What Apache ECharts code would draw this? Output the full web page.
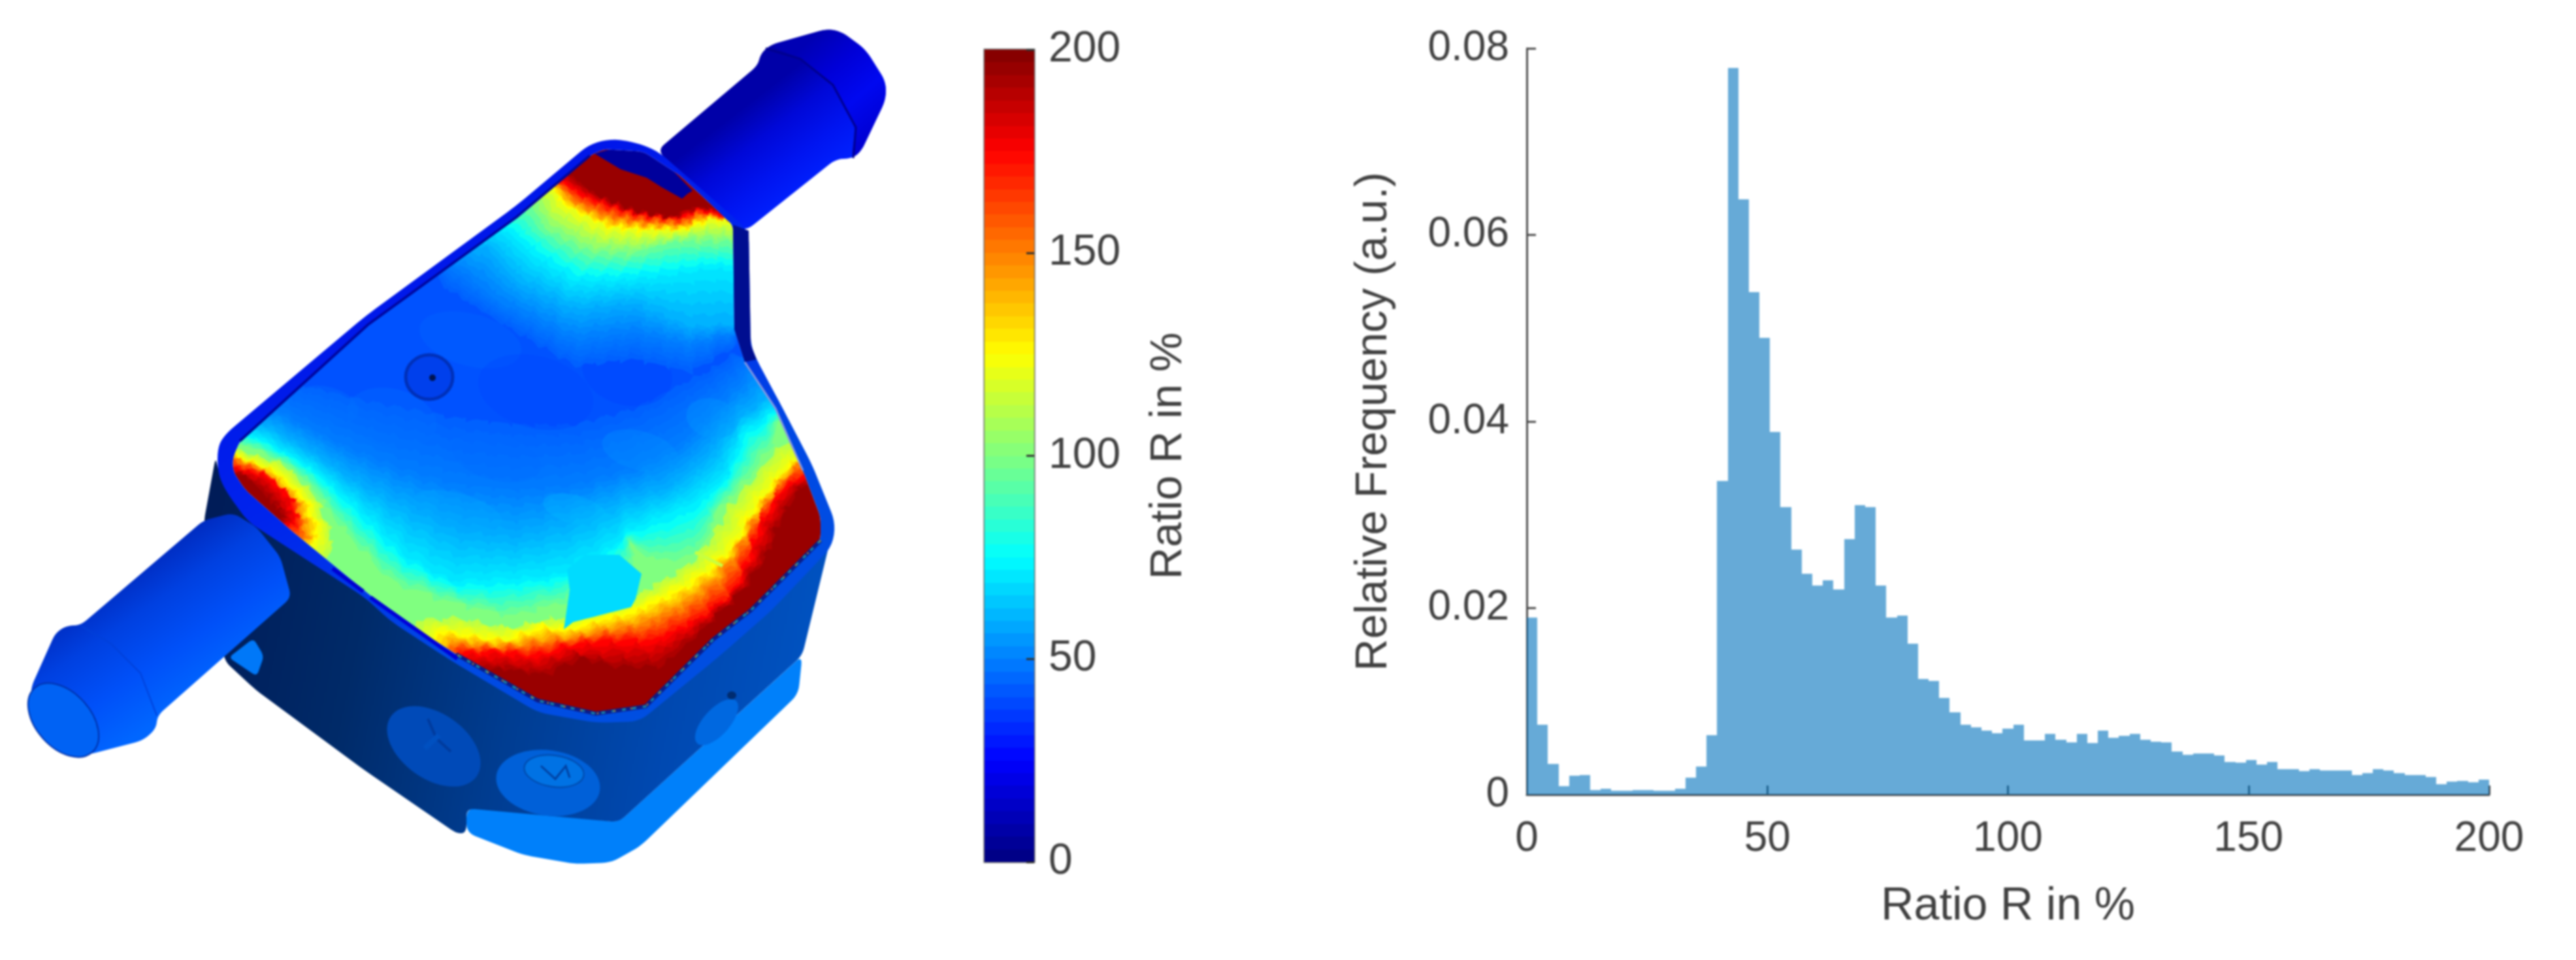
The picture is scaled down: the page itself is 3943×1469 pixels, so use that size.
<!DOCTYPE html>
<html>
<head>
<meta charset="utf-8">
<title>Ratio R</title>
<style>
    html, body { margin: 0; padding: 0; background: #fff; }
    #main { width: 3943px; height: 1469px; filter: blur(1.6px); }
</style>
<script src="https://cdn.jsdelivr.net/npm/echarts@6/dist/echarts.min.js"></script>
</head>
<body>
<div id="main"></div>
<script>
// histogram, one value per bin
var ratioFreq = [
    0.0190, 0.0075, 0.0033, 0.0009, 0.0020, 0.0021, 0.0005, 0.0006, 0.0004, 0.0004,
    0.0005, 0.0005, 0.0004, 0.0004, 0.0006, 0.0018, 0.0030, 0.0064, 0.0336, 0.0779,
    0.0638, 0.0539, 0.0490, 0.0389, 0.0308, 0.0263, 0.0237, 0.0224, 0.0230, 0.0220,
    0.0274, 0.0310, 0.0308, 0.0224, 0.0190, 0.0192, 0.0162, 0.0124, 0.0122, 0.0104,
    0.0088, 0.0075, 0.0072, 0.0069, 0.0066, 0.0071, 0.0075, 0.0058, 0.0058, 0.0065,
    0.0059, 0.0056, 0.0065, 0.0055, 0.0069, 0.0061, 0.0063, 0.0065, 0.0059, 0.0057,
    0.0056, 0.0046, 0.0043, 0.0044, 0.0044, 0.0042, 0.0035, 0.0034, 0.0037, 0.0032,
    0.0035, 0.0027, 0.0027, 0.0025, 0.0027, 0.0026, 0.0026, 0.0026, 0.0021, 0.0023,
    0.0027, 0.0026, 0.0023, 0.0021, 0.0021, 0.0019, 0.0011, 0.0014, 0.0015, 0.0013, 0.0016
];
var ratioMax = 200;
var freqMax = 0.08;
var ratioStep = 50;
var freqStep = 0.02;
var xTitle = 'Ratio R in %';
var yTitle = 'Relative Frequency (a.u.)';
var barTitle = 'Ratio R in %';
var colorLevels = 64;

// outlines of the part on the left, in page pixels
var heatEdge = [[356,702],[367,675],[563,497],[791,332],[903,238],[925,228],[985,232],[1040,268],[1122,344],[1124,504],[1140,554],[1187,625],[1229,720],[1256,791],[1256,827],[1149,934],[1091,979],[988,1081],[912,1092],[823,1072],[698,1001],[600,938],[446,812],[375,749],[357,722]];
var lidEdge = [[333,722],[333,684],[345,664],[559,484],[791,314],[903,220],[938,212],[977,219],[1008,232],[1039,259],[1146,353],[1149,527],[1158,550],[1194,617],[1243,711],[1279,800],[1274,836],[1180,935],[1100,1005],[979,1104],[912,1106],[823,1090],[689,1010],[600,952],[558,914],[379,798],[344,749]];
var bodyEdge = [[330,700],[312,798],[344,1012],[393,1057],[560,1180],[700,1276],[714,1274],[714,1237],[947,1258],[1228,1003],[1270,830],[1180,930],[1100,1000],[979,1100],[912,1102],[823,1086],[689,1006],[600,948],[558,910],[379,794],[344,745],[333,715]];
var skirtEdge = [[714,1237],[745,1236],[947,1258],[1228,1003],[1222,1062],[980,1295],[935,1320],[880,1322],[800,1308],[714,1274]];
var wedgeEdge = [[388,977],[404,1004],[393,1035],[350,1006]];
var leftNozzle = [[312,796],[357,785],[393,807],[429,852],[446,914],[241,1095],[239,1115],[219,1133],[134,1155],[107,1153],[76,1129],[49,1084],[47,1053],[85,968],[103,957],[123,957]];
var rightNozzle = [[1006,230],[1160,100],[1164,83],[1178,69],[1267,44],[1289,49],[1325,76],[1356,125],[1356,152],[1318,232],[1303,243],[1280,243],[1142,353],[1120,344]];
var rightTip = [[1178,69],[1267,44],[1289,49],[1325,76],[1356,125],[1356,152],[1318,232],[1303,243],[1310,195],[1275,130],[1225,90]];
var rightStrip = [[1122,344],[1146,353],[1149,527],[1158,550],[1140,554],[1124,504]];
var topDark = [[910,235],[950,224],[1000,230],[1060,292],[1053,296],[1044,304],[1012,286],[990,272],[950,259]];
var patchEdge = [[863,963],[872,903],[868,871],[895,849],[948,849],[982,878],[973,916],[966,929],[912,943],[877,952]];

// contour levels of the ratio on the part: value, then the line it follows
var lowerLevels = [44, 50, 60, 72, 100];
var lowerLines = [
    [[440,585],[570,615],[700,640],[790,650],[880,650],[970,625],[1040,590],[1090,565],[1125,540]],
    [[420,626],[523,680],[612,716],[702,742],[791,751],[880,742],[970,715],[1046,675],[1113,608],[1149,563]],
    [[403,649],[479,693],[546,738],[621,778],[702,814],[791,823],[877,800],[957,764],[1024,746],[1082,702],[1127,644],[1176,608]],
    [[390,665],[479,716],[546,774],[621,850],[689,889],[790,885],[850,880],[880,870],[940,835],[957,813],[1010,790],[1060,770],[1113,729],[1136,662],[1185,630]],
    [[371,680],[434,707],[479,745],[530,815],[600,890],[689,921],[779,943],[850,925],[930,900],[975,860],[960,828],[1005,858],[1069,848],[1085,815],[1100,778],[1136,742],[1180,684],[1194,644]]
];
var bottomLevels = [112, 125, 150, 175, 195];
var bottomLines = [
    [[640,950],[700,945],[779,962],[850,945],[880,945],[970,915],[1046,870],[1070,850],[1098,810],[1115,775],[1150,735],[1195,680],[1215,680]],
    [[670,965],[770,979],[832,955],[863,965],[912,947],[957,938],[979,929],[1046,898],[1078,876],[1127,831],[1145,791],[1180,742],[1212,706],[1240,700]],
    [[690,985],[765,990],[830,980],[880,975],[920,965],[980,955],[1050,925],[1100,885],[1130,840],[1155,795],[1190,745],[1225,705],[1245,710]],
    [[700,1000],[761,996],[823,1002],[868,987],[921,979],[1002,979],[1069,947],[1122,907],[1145,854],[1162,800],[1198,746],[1235,725]],
    [[740,1030],[765,1023],[832,1032],[890,1005],[939,1019],[1011,1020],[1065,975],[1136,903],[1176,845],[1189,804],[1225,742],[1245,740]]
];
var leftLevels = [112, 125, 150, 175, 195];
var leftLines = [
    [[350,685],[434,710],[484,760],[510,825],[500,860]],
    [[350,695],[425,722],[470,765],[492,818],[470,840]],
    [[350,700],[400,718],[455,770],[470,825],[455,830]],
    [[350,716],[407,725],[447,760],[456,805],[434,805]],
    [[367,725],[403,751],[434,787],[430,800]]
];
var topLevels = [44, 50, 60, 72, 100, 125, 150, 175, 195];
var topLines = [
    [[680,440],[760,490],[880,560],[970,550],[1057,570],[1125,530]],
    [[700,410],[760,460],[880,520],[970,510],[1057,530],[1125,510]],
    [[700,375],[745,379],[789,429],[879,473],[968,464],[1057,500],[1130,495]],
    [[720,360],[776,353],[820,393],[879,429],[945,429],[1012,424],[1088,411],[1130,415]],
    [[790,300],[812,312],[834,348],[901,384],[968,388],[1035,370],[1130,370]],
    [[820,270],[847,286],[856,308],[887,326],[932,348],[990,353],[1044,353],[1093,335],[1130,342]],
    [[830,265],[852,282],[880,310],[930,332],[985,342],[1044,345],[1080,328],[1130,338]],
    [[840,260],[856,277],[892,299],[941,317],[986,330],[1044,335],[1066,321],[1130,335]],
    [[850,250],[870,268],[910,295],[968,321],[1030,333],[1053,321],[1079,317],[1130,325]]
];
// mottling of the flat blue part: x, y, rx, ry, ratio
var mottle = [
    [600,640,70,45,47], [720,520,80,40,46], [820,600,90,55,38], [960,570,70,50,37],
    [900,470,70,35,47], [1040,480,60,40,52], [760,700,70,35,46], [500,620,50,28,48],
    [980,690,60,30,54], [700,780,70,25,58], [1090,640,40,30,56], [880,780,50,22,62]
];

function clamp01(v) { return Math.max(0, Math.min(1, v)); }

// jet colormap of the colour bar
function jet(value) {
    var t = value / ratioMax;
    var r = clamp01(1.5 - Math.abs(4 * t - 3));
    var g = clamp01(1.5 - Math.abs(4 * t - 2));
    var b = clamp01(1.5 - Math.abs(4 * t - 1));
    return 'rgb(' + Math.round(r * 255) + ',' + Math.round(g * 255) + ',' + Math.round(b * 255) + ')';
}

function resample(points, n) {
    var lengths = [0];
    for (var i = 1; i < points.length; i++) {
        var dx = points[i][0] - points[i - 1][0];
        var dy = points[i][1] - points[i - 1][1];
        lengths.push(lengths[i - 1] + Math.sqrt(dx * dx + dy * dy));
    }
    var total = lengths[lengths.length - 1];
    var out = [];
    var seg = 1;
    for (var k = 0; k < n; k++) {
        var at = total * k / (n - 1);
        while (seg < points.length - 1 && lengths[seg] < at) { seg++; }
        var f = (at - lengths[seg - 1]) / ((lengths[seg] - lengths[seg - 1]) || 1);
        out.push([
            points[seg - 1][0] + (points[seg][0] - points[seg - 1][0]) * f,
            points[seg - 1][1] + (points[seg][1] - points[seg - 1][1]) * f
        ]);
    }
    return out;
}

// round the corners of a closed outline, radius in px
function rounded(points, radius) {
    var out = [];
    var n = points.length;
    for (var i = 0; i < n; i++) {
        var v = points[i];
        var a = points[(i + n - 1) % n];
        var b = points[(i + 1) % n];
        var la = Math.sqrt((a[0] - v[0]) * (a[0] - v[0]) + (a[1] - v[1]) * (a[1] - v[1]));
        var lb = Math.sqrt((b[0] - v[0]) * (b[0] - v[0]) + (b[1] - v[1]) * (b[1] - v[1]));
        var ra = Math.min(radius, la / 2) / la;
        var rb = Math.min(radius, lb / 2) / lb;
        var p1 = [v[0] + (a[0] - v[0]) * ra, v[1] + (a[1] - v[1]) * ra];
        var p2 = [v[0] + (b[0] - v[0]) * rb, v[1] + (b[1] - v[1]) * rb];
        for (var s = 0; s <= 5; s++) {
            var t = s / 5;
            out.push([
                (1 - t) * (1 - t) * p1[0] + 2 * t * (1 - t) * v[0] + t * t * p2[0],
                (1 - t) * (1 - t) * p1[1] + 2 * t * (1 - t) * v[1] + t * t * p2[1]
            ]);
        }
    }
    return out;
}

function poly(points, fill, extra) {
    var el = {type: 'polygon', silent: true, shape: {points: points}, style: {fill: fill}};
    for (var k in extra) { el.style[k] = extra[k]; }
    return el;
}
function line(points, stroke, width, dash) {
    return {
        type: 'polyline', silent: true, shape: {points: points},
        style: {fill: null, stroke: stroke, lineWidth: width, lineDash: dash || null}
    };
}
// deg is clockwise on screen
function oval(cx, cy, rx, ry, deg, fill, stroke, width, opacity) {
    return {
        type: 'ellipse', silent: true, x: cx, y: cy, rotation: -deg * Math.PI / 180,
        shape: {cx: 0, cy: 0, rx: rx, ry: ry},
        style: {fill: fill, stroke: stroke || null, lineWidth: width || 0, opacity: opacity == null ? 1 : opacity}
    };
}
function gradient(x, y, x2, y2, stops) {
    var list = stops.map(function(c, i) { return {offset: i / (stops.length - 1), color: c}; });
    return new echarts.graphic.LinearGradient(x, y, x2, y2, list, true);
}
// outer outline with the inner one cut out of it
function withHole(outer, inner) {
    return outer.concat([outer[0]], inner.slice().reverse(), [inner[inner.length - 1]]);
}

// one zone of the contour map: filled bands from low to high, closed outside the visible edge
function zoneLayers(levels, lines, cap, steps, nPoints) {
    var out = [];
    var curves = lines.map(function(l) { return resample(l, nPoints); });
    for (var i = 0; i < levels.length; i++) {
        var sub = i == levels.length - 1 ? 1 : steps;
        for (var s = 0; s < sub; s++) {
            var f = s / sub;
            var next = curves[Math.min(i + 1, levels.length - 1)];
            var value = levels[i] + (levels[Math.min(i + 1, levels.length - 1)] - levels[i]) * f;
            var amp = value >= 100 ? 3.2 : 2.4;
            var pts = curves[i].map(function(p, k) {
                var q = next[k];
                return [
                    p[0] + (q[0] - p[0]) * f + amp * (Math.sin(k * 2.3 + value) + Math.sin(k * 5.1)),
                    p[1] + (q[1] - p[1]) * f + amp * (Math.sin(k * 3.7 + value) + Math.sin(k * 1.3 + 2))
                ];
            });
            out.push(poly(pts.concat(cap), jet(value)));
        }
    }
    return out;
}

function partElements() {
    var els = [];
    var heat = rounded(heatEdge, 10);
    // ratio map
    els.push(poly([[300,180],[1300,180],[1300,1150],[300,1150]], jet(41)));
    els = els.concat(zoneLayers(lowerLevels, lowerLines, [[1300,700],[1300,1150],[300,1150],[300,640]], 6, 110));
    mottle.forEach(function(m) {
        els.push(oval(m[0], m[1], m[2], m[3], 15, jet(m[4]), null, 0, 0.3));
    });
    els = els.concat(zoneLayers(bottomLevels, bottomLines, [[1300,720],[1300,1150],[600,1150]], 5, 90));
    els = els.concat(zoneLayers(leftLevels, leftLines, [[430,880],[300,800],[300,690]], 5, 40));
    els = els.concat(zoneLayers(topLevels, topLines, [[1170,250],[1000,150],[800,200],[650,380]], 5, 70));
    els.push(poly(patchEdge, jet(68)));
    els.push(line([[1064,845],[1086,856],[1106,866]], '#c8ff40', 5));
    els.push(poly(topDark, '#00009c'));
    // everything around the map is white
    els.push(poly(withHole([[0,0],[1450,0],[1450,1469],[0,1469]], heat), '#ffffff'));

    // lower part of the housing
    els.push(poly(rounded(skirtEdge, 14), '#0080fa'));
    els.push(poly(rounded(bodyEdge, 12), gradient(312, 900, 1270, 1100, ['#001c58', '#002a68', '#003c90', '#0048b0', '#0054c4'])));
    els.push(poly(rounded(wedgeEdge, 8), '#0078f8'));
    els.push(oval(664, 1142, 80, 50, 35, gradient(610, 1090, 730, 1190, ['#004ab8', '#0074ec', '#0070e0'])));
    els.push(line([[655,1100],[668,1130],[690,1150]], '#003a9c', 4));
    els.push(line([[650,1145],[672,1125]], '#0050c0', 8));
    els.push(oval(839, 1198, 80, 50, 8, gradient(770, 1160, 910, 1240, ['#0060d8', '#0078ee', '#0068d8'])));
    els.push(oval(848, 1180, 46, 24, 8, '#0072e4', '#0048a8', 2));
    els.push(line([[828,1172],[850,1192],[866,1172],[872,1190]], '#0040a0', 3));
    els.push(oval(1097, 1105, 44, 20, -48, '#0068e0'));
    els.push(oval(1120, 1064, 7, 6, 0, '#002c70'));

    // left nozzle
    els.push(poly(rounded(leftNozzle, 12), gradient(190, 860, 320, 1050, ['#0026b8', '#0040e0', '#0050f8', '#0066ff'])));
    els.push(line([[123,957],[170,985],[215,1030],[240,1095]], '#0040d8', 2));
    els.push(oval(97, 1102, 66, 42, 48, gradient(60, 1060, 140, 1140, ['#0062f4', '#006aff', '#0054dc']), '#0030a8', 2));

    // right nozzle
    els.push(poly(rounded(rightNozzle, 14), gradient(1130, 170, 1230, 300, ['#0000a8', '#0008d8', '#0014f0', '#0022ff'])));
    els.push(poly(rounded(rightTip, 14), gradient(1230, 70, 1340, 200, ['#0000b4', '#0000d8', '#0008f0', '#0000d4'])));
    els.push(line([[1172,74],[1225,90],[1275,130],[1310,195],[1306,242]], '#00008c', 3));

    // rim of the lid
    els.push(poly(withHole(rounded(lidEdge, 18), heat), gradient(600, 300, 1100, 1100, ['#0010e8', '#0024ec', '#0048e4', '#0050e0'])));
    els.push(poly(rightStrip, '#000e90'));
    var rim = [[1256,827],[1149,934],[1091,979],[988,1081],[912,1092],[823,1072],[698,1001]];
    els.push(line(rim, '#0c1c88', 6));
    els.push(line(rim, '#1890a8', 3, [6, 10]));
    els.push(line(rim, '#c89020', 2, [3, 23]));
    els.push(line([[903,238],[791,332],[563,497],[367,675]], '#00069c', 4));
    els.push(line([[1140,554],[1187,625],[1229,720]], '#8898e0', 3));
    els.push(line([[509,870],[556,905]], '#0000d0', 6));
    els.push(line([[567,914],[700,1008]], '#0000d8', 6));

    // dimple on the lid
    els.push(oval(657, 577, 36, 34, 0, '#0040ec', '#0030b8', 5));
    els.push(oval(662, 578, 5, 5, 0, '#001450'));
    return els;
}

var textColor = '#404040';
var fontFamily = '"Liberation Sans", Arial, sans-serif';
var lineColor = '#4a4a4a';

var binWidth = ratioMax / ratioFreq.length;
var bins = ratioFreq.map(function(v, i) { return [i * binWidth, (i + 1) * binWidth, v]; });
var colorBands = [];
for (var c = 0; c < colorLevels; c++) {
    colorBands.push([c * ratioMax / colorLevels, (c + 1) * ratioMax / colorLevels]);
}

var myChart = echarts.init(document.getElementById('main'), null, {renderer: 'canvas'});
myChart.setOption({
    animation: false,
    backgroundColor: '#ffffff',
    textStyle: {fontFamily: fontFamily},
    graphic: {elements: partElements()},
    grid: [
        {left: 2337, top: 74, width: 1473, height: 1142},
        {left: 1507, top: 76, width: 76, height: 1243, show: true, borderColor: '#666666', borderWidth: 3, backgroundColor: 'transparent'}
    ],
    xAxis: [
        {
            type: 'value', gridIndex: 0, min: 0, max: ratioMax, interval: ratioStep,
            name: xTitle, nameLocation: 'middle', nameGap: 137,
            nameTextStyle: {fontSize: 70, color: textColor},
            axisLine: {lineStyle: {color: lineColor, width: 3}},
            axisTick: {inside: true, length: 14, lineStyle: {color: lineColor, width: 3}},
            axisLabel: {fontSize: 64, color: textColor, margin: 36},
            splitLine: {show: false}
        },
        {type: 'value', gridIndex: 1, min: 0, max: 1, show: false, splitLine: {show: false}}
    ],
    yAxis: [
        {
            type: 'value', gridIndex: 0, min: 0, max: freqMax, interval: freqStep,
            name: yTitle, nameLocation: 'middle', nameGap: 200,
            nameTextStyle: {fontSize: 68, color: textColor},
            axisLine: {show: true, lineStyle: {color: lineColor, width: 3}},
            axisTick: {show: true, inside: true, length: 14, lineStyle: {color: lineColor, width: 3}},
            axisLabel: {
                fontSize: 64, color: textColor, margin: 27, padding: [5, 0, 0, 0],
                formatter: function(v) { return v == 0 ? '0' : v.toFixed(2); }
            },
            splitLine: {show: false}
        },
        {
            type: 'value', gridIndex: 1, position: 'right', min: 0, max: ratioMax, interval: ratioStep,
            name: barTitle, nameLocation: 'middle', nameGap: 172, nameRotate: 90,
            nameTextStyle: {fontSize: 68, color: textColor},
            axisLine: {show: false, onZero: false},
            axisTick: {show: true, inside: true, length: 12, lineStyle: {color: '#303030', width: 3}},
            axisLabel: {fontSize: 66, color: textColor, margin: 22, padding: [10, 0, 0, 0]},
            splitLine: {show: false},
            z: 5
        }
    ],
    series: [
        {
            type: 'custom',
            xAxisIndex: 0,
            yAxisIndex: 0,
            data: bins,
            encode: {x: [0, 1], y: 2},
            renderItem: function(params, api) {
                var a = api.coord([api.value(0), 0]);
                var b = api.coord([api.value(1), api.value(2)]);
                var x = Math.round(a[0]);
                var y = Math.round(b[1]);
                return {
                    type: 'rect',
                    shape: {x: x, y: y, width: Math.round(b[0]) - x, height: Math.round(a[1]) - y},
                    style: {fill: 'rgba(0,114,189,0.6)'}
                };
            }
        },
        {
            type: 'custom',
            xAxisIndex: 1,
            yAxisIndex: 1,
            z: 1,
            data: colorBands,
            encode: {y: [0, 1]},
            renderItem: function(params, api) {
                var a = api.coord([0, api.value(0)]);
                var b = api.coord([1, api.value(1)]);
                var y = Math.round(b[1]);
                return {
                    type: 'rect',
                    shape: {x: a[0], y: y, width: b[0] - a[0], height: Math.round(a[1]) - y},
                    style: {fill: jet((api.value(0) + api.value(1)) / 2)}
                };
            }
        }
    ]
});
</script>
</body>
</html>
